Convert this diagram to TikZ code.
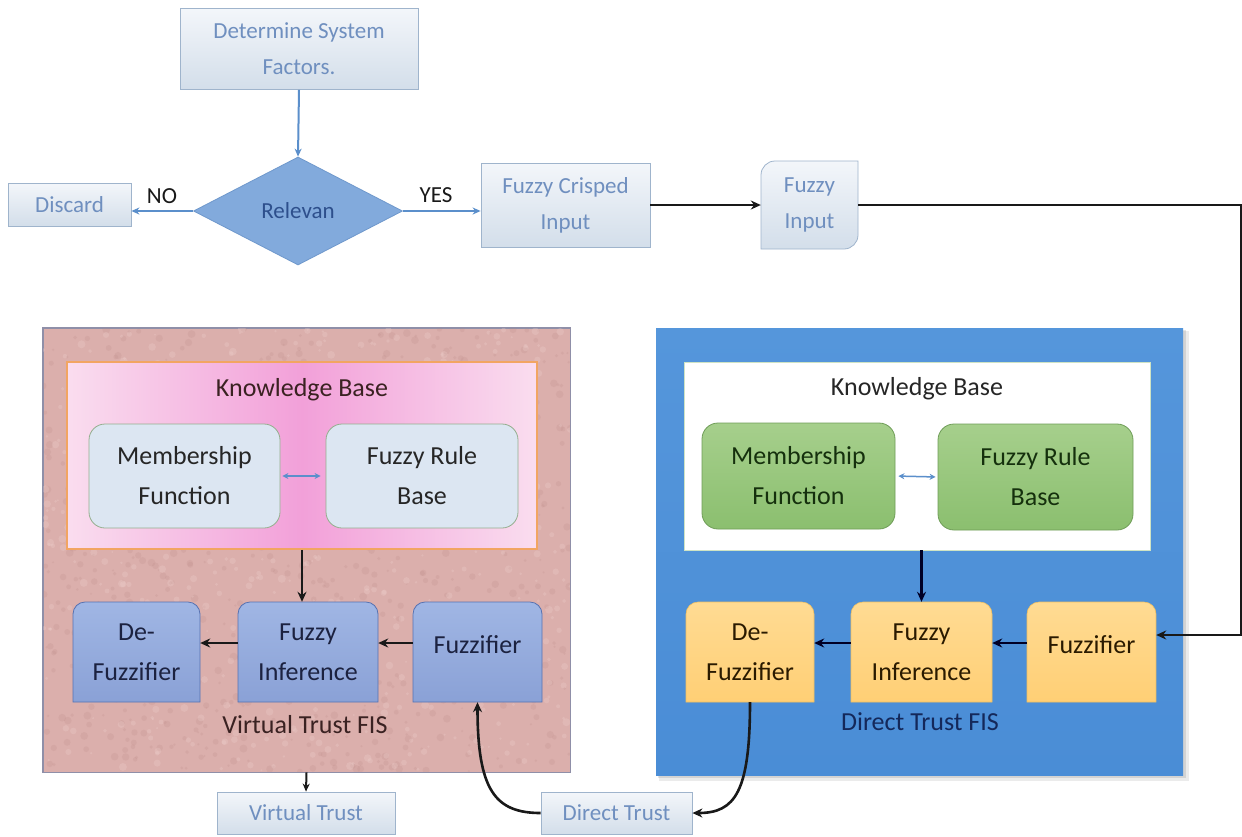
\documentclass[tikz,border=0pt]{standalone}
\usepackage{fontspec}
\setmainfont{Carlito}
\usetikzlibrary{arrows.meta,shapes.geometric,calc}
\definecolor{gbord}{HTML}{9FB4CC}
\definecolor{gtop}{HTML}{F3F6FA}
\definecolor{gbot}{HTML}{D3DEEA}
\definecolor{gtext}{HTML}{6F8FBF}
\definecolor{diaf}{HTML}{82AADC}
\definecolor{diab}{HTML}{6F98CC}
\definecolor{diat}{HTML}{2D4F8C}
\definecolor{barrowc}{HTML}{5B8FCB}
\definecolor{pinkp}{HTML}{DBAFAC}
\definecolor{pinkdark}{HTML}{B98683}
\definecolor{pinklight}{HTML}{F0D2CF}
\definecolor{pbord}{HTML}{8F8FA8}
\definecolor{kbedge}{HTML}{FADDEF}
\definecolor{kbmid}{HTML}{F2A0D9}
\definecolor{kbbord}{HTML}{F2A562}
\definecolor{lbfill}{HTML}{DCE6F2}
\definecolor{lbbord}{HTML}{94AE8E}
\definecolor{vtop}{HTML}{A0B6E4}
\definecolor{vbot}{HTML}{8AA1D6}
\definecolor{vbord}{HTML}{5672B2}
\definecolor{vtext}{HTML}{1C2240}
\definecolor{bluep}{HTML}{4A8DD6}
\definecolor{bluetop}{HTML}{5596DB}
\definecolor{wbord}{HTML}{CFE3C4}
\definecolor{gntop}{HTML}{A6CF8C}
\definecolor{gnbot}{HTML}{8BBF6F}
\definecolor{gnbord}{HTML}{6F9D58}
\definecolor{gntext}{HTML}{15300D}
\definecolor{ortop}{HTML}{FFDB93}
\definecolor{orbot}{HTML}{FFCF75}
\definecolor{orbord}{HTML}{EFBF62}
\definecolor{ortext}{HTML}{2A1A00}
\definecolor{dfist}{HTML}{14285A}
\definecolor{vfist}{HTML}{3A2222}
\newcommand\tbpath[5]{%
  \path[#5] (#1,#4) -- (#1,#2+12) .. controls (#1,#2+5.4) and (#1+5.4,#2) .. (#1+12,#2)
   -- (#3-12,#2) .. controls (#3-5.4,#2) and (#3,#2+5.4) .. (#3,#2+12) -- (#3,#4) -- cycle;}
\begin{document}
\begin{tikzpicture}[x=1pt,y=-1pt,
  gbox/.style={draw=gbord, line width=0.8pt, top color=gtop, bottom color=gbot, text=gtext,
    font=\fontsize{23}{36}\selectfont, align=center, inner sep=0pt, rectangle},
  holder/.style={inner sep=0pt, rectangle, align=center, font=\fontsize{26}{40}\selectfont},
  barrow/.style={draw=barrowc, line width=2pt, -{Stealth[length=8pt,width=7pt]}},
  karrow/.style={draw=black!90, line width=2.6pt, -{Stealth[length=10pt,width=9pt]}},
  lbl/.style={font=\fontsize{23}{28}\selectfont, text=black!90, inner sep=0pt},
  kbbox/.style={rectangle, rounded corners=16pt, inner sep=0pt, align=center,
    font=\fontsize{26}{40}\selectfont},
]
\useasboundingbox (0,0) rectangle (1242,836);
\fill[white] (0,0) rectangle (1242,836);

% ---------------- top flow ----------------
\node[gbox, minimum width=238pt, minimum height=81pt] (det) at (299,49) {Determine System\\Factors.};
\node[diamond, draw=diab, line width=0.8pt, fill=diaf, aspect=1.935, minimum width=209pt, minimum height=108pt,
  inner sep=0pt, text=diat, font=\fontsize{23}{28}\selectfont] (rel) at (298,211) {Relevan};
\node[gbox, minimum width=123pt, minimum height=43pt] (dis) at (69.5,204.5) {Discard};
\node[gbox, minimum width=169pt, minimum height=84pt] (fci) at (565.5,205) {Fuzzy Crisped\\Input};
% Fuzzy Input (diagonal rounded corners)
\path[draw=gbord, line width=0.8pt, top color=gtop, bottom color=gbot]
  (761,249) -- (761,175) .. controls (761,167.3) and (767.3,161) .. (775,161) -- (858,161)
  -- (858,235) .. controls (858,242.7) and (851.7,249) .. (844,249) -- cycle;
\node[holder, minimum width=97pt, minimum height=88pt, text=gtext, font=\fontsize{23}{36}\selectfont] (fin) at (809.5,205) {Fuzzy\\Input};
\node[lbl] (no) at (162,196) {NO};
\node[lbl] (yes) at (436,195) {YES};

\draw[barrow] (det.south) -- (rel.north);
\draw[barrow] (rel.west) -- (rel.west -| dis.east);
\draw[barrow] (rel.east) -- (rel.east -| fci.west);
\draw[karrow] (fci.east) -- (fin.west);

% ---------------- left panel (Virtual Trust FIS) ----------------
\node[draw=pbord, line width=0.8pt, fill=pinkp, minimum width=527pt, minimum height=444pt, inner sep=0pt] (vpan) at (306.5,550) {};
\begin{scope}
  \clip (43,328) rectangle (570,772);
  \pgfmathsetseed{7}
  \foreach \i in {1,...,900}{
    \pgfmathsetmacro\rx{43+527*rnd}
    \pgfmathsetmacro\ry{328+444*rnd}
    \pgfmathsetmacro\rr{1+3*rnd}
    \fill[pinkdark, opacity=0.18] (\rx,\ry) circle[radius=\rr];
  }
  \foreach \i in {1,...,600}{
    \pgfmathsetmacro\rx{43+527*rnd}
    \pgfmathsetmacro\ry{328+444*rnd}
    \pgfmathsetmacro\rr{1+3*rnd}
    \fill[pinklight, opacity=0.28] (\rx,\ry) circle[radius=\rr];
  }
\end{scope}
\draw[pbord, line width=0.8pt] (vpan.north west) rectangle (vpan.south east);
\node[draw=kbbord, line width=1.5pt, left color=kbedge, right color=kbedge, middle color=kbmid,
  minimum width=470pt, minimum height=187pt, inner sep=0pt] (kbL) at (302,455.5) {};
\node[holder, text=vfist] (kbLt) at (302,390) {Knowledge Base};
\node[kbbox, draw=lbbord, line width=0.8pt, fill=lbfill, text=black!85, minimum width=191pt, minimum height=104pt] (mfL) at (184.5,476) {Membership\\Function};
\node[kbbox, draw=lbbord, line width=0.8pt, fill=lbfill, text=black!85, minimum width=192pt, minimum height=104pt] (frL) at (422,476) {Fuzzy Rule\\Base};
\draw[draw=barrowc, line width=1.5pt, {Stealth[length=6pt,width=6pt]}-{Stealth[length=6pt,width=6pt]}, shorten <=2pt, shorten >=5pt] (mfL.east) -- (frL.west);

\tbpath{73}{602}{200}{702}{draw=vbord, line width=0.8pt, top color=vtop, bottom color=vbot}
\tbpath{238}{602}{378}{702}{draw=vbord, line width=0.8pt, top color=vtop, bottom color=vbot}
\tbpath{413}{602}{542}{702}{draw=vbord, line width=0.8pt, top color=vtop, bottom color=vbot}
\node[holder, text=vtext, minimum width=127pt, minimum height=100pt] (dfL) at (136.5,652) {De-\\Fuzzifier};
\node[holder, text=vtext, minimum width=140pt, minimum height=100pt] (fiL) at (308,652) {Fuzzy\\Inference};
\node[holder, minimum width=129pt, minimum height=100pt] (fzL) at (477.5,652) {};
\node[holder, text=vtext] (fzLt) at (477.5,645) {Fuzzifier};
\node[holder, text=vfist] (vfis) at (305,725) {Virtual Trust FIS};

\draw[karrow] (kbL.south) -- (kbL.south |- fiL.north);
\draw[karrow] ($(fzL.west)+(0,-9)$) -- ($(fiL.east)+(0,-9)$);
\draw[karrow] ($(fiL.west)+(0,-9)$) -- ($(dfL.east)+(0,-9)$);

% ---------------- right panel (Direct Trust FIS) ----------------
\fill[black, opacity=0.08] (659,331) rectangle (1189,781);
\fill[black, opacity=0.10] (658,330) rectangle (1186,778);
\node[top color=bluetop, bottom color=bluep, minimum width=527pt, minimum height=447pt, inner sep=0pt] (dpan) at (919.5,551.5) {};
\node[draw=wbord, line width=0.8pt, fill=white, minimum width=466pt, minimum height=188pt, inner sep=0pt] (kbR) at (917,456) {};
\node[holder, text=black!85] (kbRt) at (917,389) {Knowledge Base};
\node[kbbox, draw=gnbord, line width=0.8pt, top color=gntop, bottom color=gnbot, text=gntext, minimum width=193pt, minimum height=106pt] (mfR) at (798.5,476) {Membership\\Function};
\node[kbbox, draw=gnbord, line width=0.8pt, top color=gntop, bottom color=gnbot, text=gntext, minimum width=195pt, minimum height=106pt] (frR) at (1035.5,477) {Fuzzy Rule\\Base};
\draw[draw=barrowc, line width=1.5pt, {Stealth[length=6pt,width=6pt]}-{Stealth[length=6pt,width=6pt]}, shorten <=3pt, shorten >=2pt] (mfR.east) -- (frR.west);

\tbpath{686}{602}{814}{702}{draw=orbord, line width=0.6pt, top color=ortop, bottom color=orbot}
\tbpath{851}{602}{992}{702}{draw=orbord, line width=0.6pt, top color=ortop, bottom color=orbot}
\tbpath{1027}{602}{1156}{702}{draw=orbord, line width=0.6pt, top color=ortop, bottom color=orbot}
\node[holder, text=ortext, minimum width=128pt, minimum height=100pt] (dfR) at (750,652) {De-\\Fuzzifier};
\node[holder, text=ortext, minimum width=141pt, minimum height=100pt] (fiR) at (921.5,652) {Fuzzy\\Inference};
\node[holder, minimum width=129pt, minimum height=100pt] (fzR) at (1091.5,652) {};
\node[holder, text=ortext] (fzRt) at (1091.5,645) {Fuzzifier};
\node[holder, text=dfist] (dfis) at (920,722) {Direct Trust FIS};

\draw[karrow, draw=black!85!blue] (fiR.north |- kbR.south) -- (fiR.north);
\draw[karrow, draw=black!85!blue] ($(fzR.west)+(0,-9)$) -- ($(fiR.east)+(0,-9)$);
\draw[karrow, draw=black!85!blue] ($(fiR.west)+(0,-9)$) -- ($(dfR.east)+(0,-9)$);

% ---------------- outputs ----------------
\node[gbox, minimum width=178pt, minimum height=42pt] (vt) at (306,813) {Virtual Trust};
\node[gbox, minimum width=151pt, minimum height=42pt] (dt) at (616.5,813) {Direct Trust};
\draw[karrow, line width=2pt, -{Stealth[length=8pt,width=7pt]}] (vpan.south) -- (vt.north);
\draw[karrow] (dt.west) .. controls (495,813) and (477.5,790) .. (fzL.south);
\draw[karrow] (dfR.south) .. controls (750,792) and (735,813) .. (dt.east);

% long input line to the right-hand Fuzzifier
\coordinate (c1) at (1241,205);
\coordinate (c2) at (1241,635);
\draw[karrow] (fin.east) -- (c1) -- (c2) -- (c2 -| fzR.east);
\end{tikzpicture}
\end{document}
